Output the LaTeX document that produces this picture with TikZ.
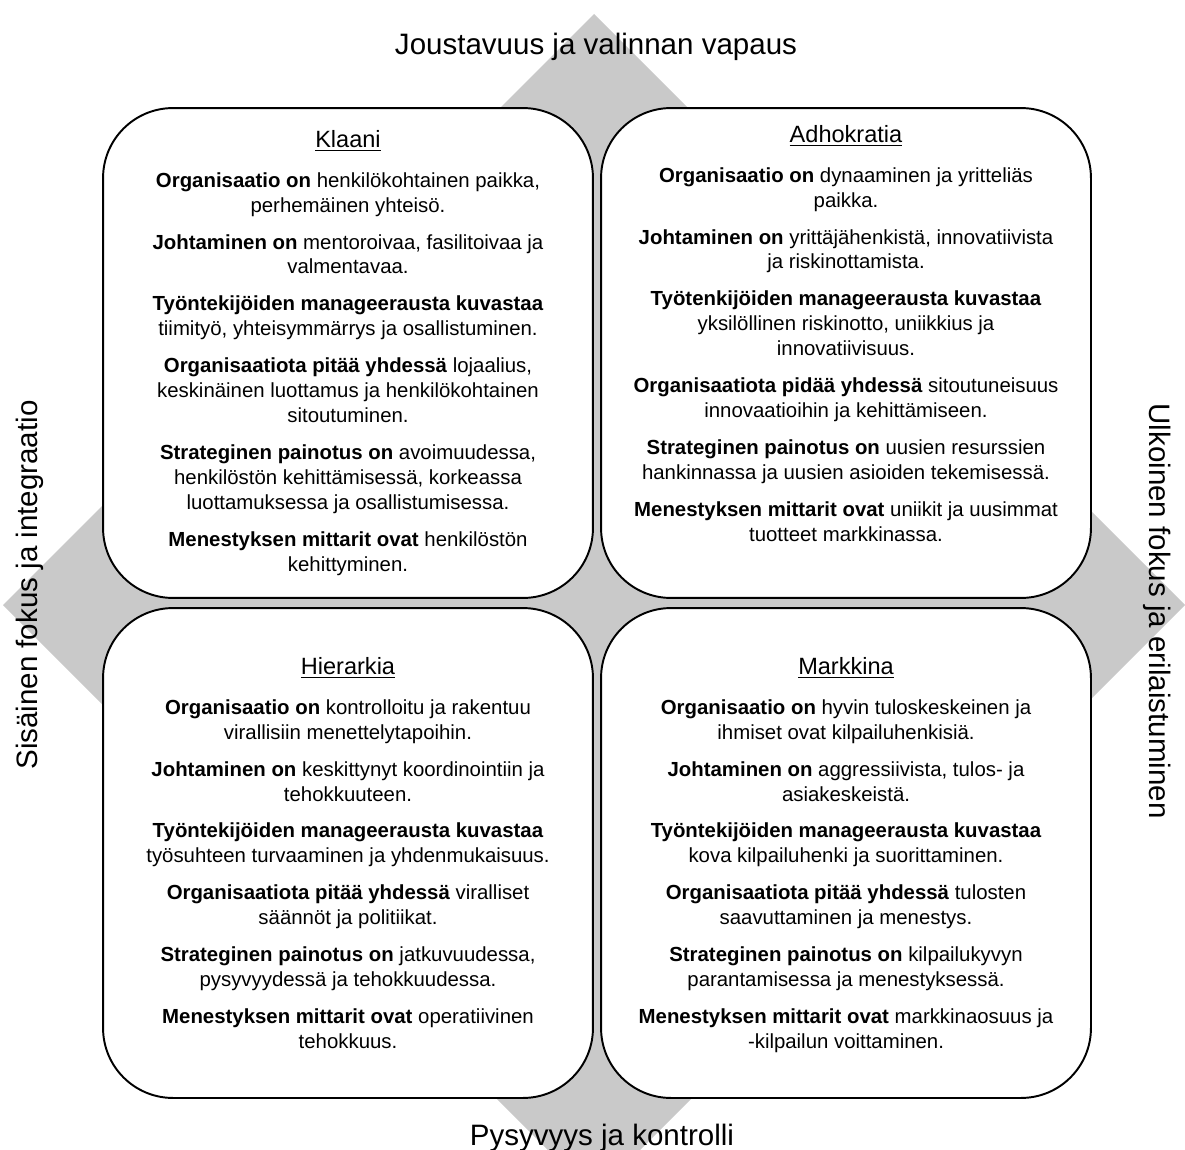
\documentclass[tikz,border=0pt]{standalone}
\usepackage{fontspec}
\setmainfont{Liberation Sans}
\usetikzlibrary{positioning}
\definecolor{diamondgray}{RGB}{201,201,201}

\begin{document}
\begin{tikzpicture}[
    x=0.02cm, y=-0.02cm,
    quadrant/.style={draw, line width=1.1pt, fill=white, rounded corners=1.4cm,
      minimum width=9.8cm, minimum height=9.8cm},
    quadtitle/.style={inner sep=0pt, font=\fontsize{13.4}{16}\selectfont},
    quadtext/.style={inner sep=0pt, align=center, font=\fontsize{11.6}{14.2}\selectfont},
    axislabel/.style={inner sep=0pt, font=\fontsize{16.8}{20}\selectfont},
  ]
  \useasboundingbox (0,0) rectangle (1185,1149);
  \clip (0,0) rectangle (1185,1149);

  % Background diamond
  \fill[diamondgray] (594,14) -- (1185,605) -- (594,1196) -- (3,605) -- cycle;

  % Axis labels
  \node[axislabel] (top) at (596,47) {Joustavuus ja valinnan vapaus};
  \node[axislabel] (bottom) at (602,1138) {Pysyvyys ja kontrolli};
  \node[axislabel, rotate=90] (left) at (30,585) {Sisäinen fokus ja integraatio};
  \node[axislabel, rotate=-90] (right) at (1157,611) {Ulkoinen fokus ja erilaistuminen};

  % Quadrants
  \node[quadrant] (klaani) at (348,353) {};
  \node[quadrant] (adhokratia) at (846,353) {};
  \node[quadrant] (hierarkia) at (348,853) {};
  \node[quadrant] (markkina) at (846,853) {};

  % Titles
  \node[quadtitle, below=0.47cm of klaani.north] (klaani-title) {\underline{Klaani}};
  \node[quadtitle, below=0.37cm of adhokratia.north] (adhokratia-title) {\underline{Adhokratia}};
  \node[quadtitle, below=1.01cm of hierarkia.north] (hierarkia-title) {\underline{Hierarkia}};
  \node[quadtitle, below=1.01cm of markkina.north] (markkina-title) {\underline{Markkina}};

  % Descriptions
  \node[quadtext, below=0.4cm of klaani-title] (klaani-text) {%
    \textbf{Organisaatio on} henkilökohtainen paikka,\\
    perhemäinen yhteisö.\\[6.8pt]
    \textbf{Johtaminen on} mentoroivaa, fasilitoivaa ja\\
    valmentavaa.\\[6.8pt]
    \textbf{Työntekijöiden manageerausta kuvastaa}\\
    tiimityö, yhteisymmärrys ja osallistuminen.\\[6.8pt]
    \textbf{Organisaatiota pitää yhdessä} lojaalius,\\
    keskinäinen luottamus ja henkilökohtainen\\
    sitoutuminen.\\[6.8pt]
    \textbf{Strateginen painotus on} avoimuudessa,\\
    henkilöstön kehittämisessä, korkeassa\\
    luottamuksessa ja osallistumisessa.\\[6.8pt]
    \textbf{Menestyksen mittarit ovat} henkilöstön\\
    kehittyminen.};
  \node[quadtext, below=0.4cm of adhokratia-title] (adhokratia-text) {%
    \textbf{Organisaatio on} dynaaminen ja yritteliäs\\
    paikka.\\[6.8pt]
    \textbf{Johtaminen on} yrittäjähenkistä, innovatiivista\\
    ja riskinottamista.\\[6.8pt]
    \textbf{Työtenkijöiden manageerausta kuvastaa}\\
    yksilöllinen riskinotto, uniikkius ja\\
    innovatiivisuus.\\[6.8pt]
    \textbf{Organisaatiota pidää yhdessä} sitoutuneisuus\\
    innovaatioihin ja kehittämiseen.\\[6.8pt]
    \textbf{Strateginen painotus on} uusien resurssien\\
    hankinnassa ja uusien asioiden tekemisessä.\\[6.8pt]
    \textbf{Menestyksen mittarit ovat} uniikit ja uusimmat\\
    tuotteet markkinassa.};
  \node[quadtext, below=0.4cm of hierarkia-title] (hierarkia-text) {%
    \textbf{Organisaatio on} kontrolloitu ja rakentuu\\
    virallisiin menettelytapoihin.\\[6.8pt]
    \textbf{Johtaminen on} keskittynyt koordinointiin ja\\
    tehokkuuteen.\\[6.8pt]
    \textbf{Työntekijöiden manageerausta kuvastaa}\\
    työsuhteen turvaaminen ja yhdenmukaisuus.\\[6.8pt]
    \textbf{Organisaatiota pitää yhdessä} viralliset\\
    säännöt ja politiikat.\\[6.8pt]
    \textbf{Strateginen painotus on} jatkuvuudessa,\\
    pysyvyydessä ja tehokkuudessa.\\[6.8pt]
    \textbf{Menestyksen mittarit ovat} operatiivinen\\
    tehokkuus.};
  \node[quadtext, below=0.4cm of markkina-title] (markkina-text) {%
    \textbf{Organisaatio on} hyvin tuloskeskeinen ja\\
    ihmiset ovat kilpailuhenkisiä.\\[6.8pt]
    \textbf{Johtaminen on} aggressiivista, tulos- ja\\
    asiakeskeistä.\\[6.8pt]
    \textbf{Työntekijöiden manageerausta kuvastaa}\\
    kova kilpailuhenki ja suorittaminen.\\[6.8pt]
    \textbf{Organisaatiota pitää yhdessä} tulosten\\
    saavuttaminen ja menestys.\\[6.8pt]
    \textbf{Strateginen painotus on} kilpailukyvyn\\
    parantamisessa ja menestyksessä.\\[6.8pt]
    \textbf{Menestyksen mittarit ovat} markkinaosuus ja\\
    -kilpailun voittaminen.};
\end{tikzpicture}
\end{document}
